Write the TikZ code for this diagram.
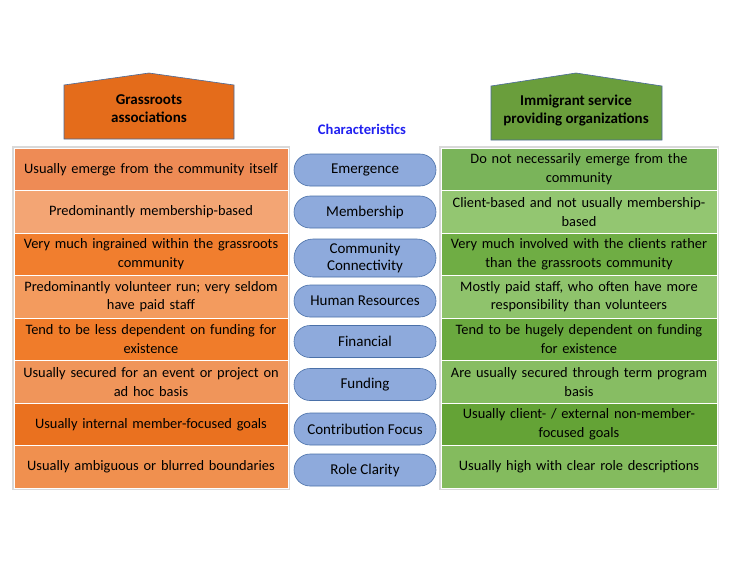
\documentclass[tikz,border=0pt]{standalone}
\usepackage{fontspec}
\setmainfont{Carlito}
\usetikzlibrary{positioning, shapes.misc, fit, backgrounds}

\definecolor{grassorange}{HTML}{E46C1B}
\definecolor{servicegreen}{HTML}{6A9E3C}
\definecolor{houseline}{HTML}{4A6A9A}
\definecolor{pillfill}{HTML}{8EAADC}
\definecolor{pillline}{HTML}{4A70A8}
\definecolor{charblue}{HTML}{2020F0}
\definecolor{oa}{HTML}{EE8B55}
\definecolor{ob}{HTML}{F3A574}
\definecolor{oc}{HTML}{F17E2E}
\definecolor{od}{HTML}{F39B5E}
\definecolor{oe}{HTML}{F07C2A}
\definecolor{of}{HTML}{F0955A}
\definecolor{og}{HTML}{EA711F}
\definecolor{oh}{HTML}{F0904F}
\definecolor{ga}{HTML}{7AB45A}
\definecolor{gb}{HTML}{93C671}
\definecolor{gc}{HTML}{6FAD44}
\definecolor{gd}{HTML}{8FC36C}
\definecolor{ge}{HTML}{6AA93F}
\definecolor{gf}{HTML}{87BD63}
\definecolor{gg}{HTML}{64A336}
\definecolor{gh}{HTML}{84BB5E}

\begin{document}
\begin{tikzpicture}[
          x=1pt, y=-1pt, % work in pixels, y going down
          every node/.style={align=center, font=\fontsize{14.4}{18.8}\selectfont},
          row/.style={rectangle, draw=white, line width=0.8pt, outer sep=0pt, inner xsep=3pt, inner ysep=0pt, text width=268pt, minimum height=42.5pt}, % table rows
          pill/.style={rounded rectangle, draw=pillline, fill=pillfill, line width=0.6pt, minimum width=144pt, minimum height=32pt, inner sep=1pt, font=\fontsize{15}{17.5}\selectfont},
          house/.style={draw=houseline, line width=0.6pt},
          headtext/.style={font=\bfseries\fontsize{15}{18}\selectfont},
          halo/.style={fill=gray!30, inner sep=1.8pt}
        ]
        \useasboundingbox (0,0) rectangle (733,566);

        % headings
        \draw[house, fill=grassorange] (64,139) -- (64,85) -- (149,73) -- (234,85) -- (234,139) -- cycle;
        \node[headtext] (grassroots) at (149,109) {Grassroots\\associations};
        \draw[house, fill=servicegreen] (491,140) -- (491,86) -- (576,73) -- (662,86) -- (662,140) -- cycle;
        \node[headtext] (immigrant) at (576,111) {Immigrant service\\providing organizations};
        \node[font=\bfseries\fontsize{14.6}{16}\selectfont, text=charblue] (chars) at (362,129) {Characteristics};

        % grassroots column
        \node[row, fill=oa] (g1) at (151,169.25) {Usually emerge from the community itself};
        \node[row, fill=ob, below=0pt of g1] (g2) {Predominantly membership-based};
        \node[row, fill=oc, below=0pt of g2] (g3) {Very much ingrained within the grassroots\\community};
        \node[row, fill=od, below=0pt of g3] (g4) {Predominantly volunteer run; very seldom\\have paid staff};
        \node[row, fill=oe, below=0pt of g4] (g5) {Tend to be less dependent on funding for\\existence};
        \node[row, fill=of, below=0pt of g5] (g6) {Usually secured for an event or project on\\ad hoc basis};
        \node[row, fill=og, below=0pt of g6] (g7) {Usually internal member-focused goals};
        \node[row, fill=oh, below=0pt of g7] (g8) {Usually ambiguous or blurred boundaries};

        % service organizations column
        \node[row, fill=ga, text width=270pt] (s1) at (579,169.25) {Do not necessarily emerge from the\\community};
        \node[row, fill=gb, text width=270pt, below=0pt of s1] (s2) {Client-based and not usually membership-\\based};
        \node[row, fill=gc, text width=270pt, below=0pt of s2] (s3) {Very much involved with the clients rather\\than the grassroots community};
        \node[row, fill=gd, text width=270pt, below=0pt of s3] (s4) {Mostly paid staff, who often have more\\responsibility than volunteers};
        \node[row, fill=ge, text width=270pt, below=0pt of s4] (s5) {Tend to be hugely dependent on funding\\for existence};
        \node[row, fill=gf, text width=270pt, below=0pt of s5] (s6) {Are usually secured through term program\\basis};
        \node[row, fill=gg, text width=270pt, below=0pt of s6] (s7) {Usually client- / external non-member-\\focused goals};
        \node[row, fill=gh, text width=270pt, below=0pt of s7] (s8) {Usually high with clear role descriptions};

        % soft edge round both tables
        \begin{scope}[on background layer]
          \node[halo, fit=(g1)(g8)] (gtable) {};
          \node[halo, fit=(s1)(s8)] (stable) {};
        \end{scope}

        % characteristics in the middle
        \node[pill] (emergence) at (365,170) {Emergence};
        \node[pill] (membership) at (365,212) {Membership};
        \node[pill, minimum height=38pt] (connectivity) at (365,258) {Community\\Connectivity};
        \node[pill] (resources) at (365,301) {Human Resources};
        \node[pill] (financial) at (365,341.5) {Financial};
        \node[pill] (funding) at (365,384.5) {Funding};
        \node[pill] (contribution) at (365,429) {Contribution Focus};
        \node[pill] (clarity) at (365,470) {Role Clarity};
\end{tikzpicture}
\end{document}
